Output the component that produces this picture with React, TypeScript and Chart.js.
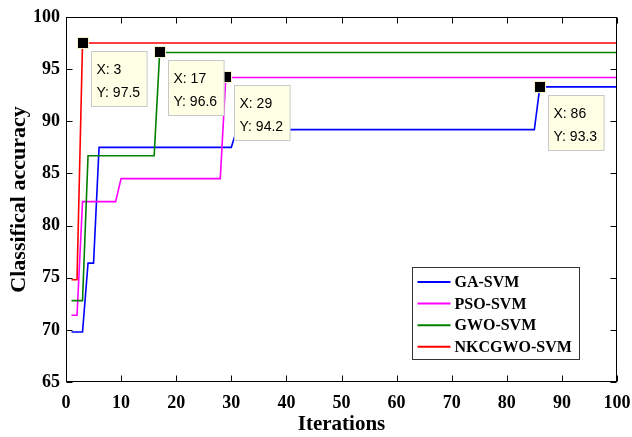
import React, { useEffect, useRef } from "react";
import { Chart, registerables } from "chart.js";
Chart.register(...registerables);

const X_MIN = 0;
const X_MAX = 100;
const X_STEP = 10;
const Y_MIN = 65;
const Y_MAX = 100;
const Y_STEP = 5;

const SERIES_NAMES = ["GA-SVM", "PSO-SVM", "GWO-SVM", "NKCGWO-SVM"];
const SERIES_COLORS = ["#0000ff", "#ff00ff", "#008000", "#ff0000"];

const GA_X = [1, 3, 4, 5, 6, 30, 31, 85, 86, 100];
const GA_Y = [69.8, 69.8, 76.4, 76.4, 87.5, 87.5, 89.2, 89.2, 93.3, 93.3];
const PSO_X = [1, 2, 3, 9, 10, 28, 29, 100];
const PSO_Y = [71.4, 71.4, 82.3, 82.3, 84.5, 84.5, 94.2, 94.2];
const GWO_X = [1, 3, 4, 16, 17, 100];
const GWO_Y = [72.8, 72.8, 86.7, 86.7, 96.6, 96.6];
const NK_X = [1, 2, 3, 100];
const NK_Y = [74.8, 74.8, 97.5, 97.5];

const MARK_X = [3, 17, 29, 86];
const MARK_Y = [97.5, 96.6, 94.2, 93.3];

const X_TITLE = "Iterations";
const Y_TITLE = "Classifical accuracy";

const SERIF = "'Liberation Serif', 'Times New Roman', serif";
const SANS = "'Liberation Sans', Arial, sans-serif";

function pts(xs: number[], ys: number[]) {
  return xs.map((x, i) => ({ x, y: ys[i] }));
}

const decorPlugin = {
  id: "decor",
  afterDatasetsDraw(chart: any) {
    const ctx = chart.ctx as CanvasRenderingContext2D;
    const { left, right, top, bottom } = chart.chartArea;
    const xs = chart.scales.x;
    const ys = chart.scales.y;
    ctx.save();
    // frame
    ctx.strokeStyle = "#000";
    ctx.lineWidth = 1;
    const L = Math.round(left) + 0.5;
    const R = Math.round(right) - 0.5;
    const T = Math.round(top) + 0.5;
    const B = Math.round(bottom) - 0.5;
    ctx.strokeRect(L, T, R - L, B - T);
    // inward ticks
    const tl = 6;
    ctx.beginPath();
    for (let v = X_MIN; v <= X_MAX; v += X_STEP) {
      const px = Math.round(xs.getPixelForValue(v)) + 0.5;
      ctx.moveTo(px, B);
      ctx.lineTo(px, B - tl);
      ctx.moveTo(px, T);
      ctx.lineTo(px, T + tl);
    }
    for (let v = Y_MIN; v <= Y_MAX; v += Y_STEP) {
      const py = Math.round(ys.getPixelForValue(v)) + 0.5;
      ctx.moveTo(L, py);
      ctx.lineTo(L + tl, py);
      ctx.moveTo(R, py);
      ctx.lineTo(R - tl, py);
    }
    ctx.stroke();

    // markers
    MARK_X.forEach((mx, i) => {
      const px = xs.getPixelForValue(mx);
      const py = ys.getPixelForValue(MARK_Y[i]);
      ctx.fillStyle = "#f5f0c8";
      ctx.fillRect(Math.round(px - 6), Math.round(py - 6), 12, 12);
      ctx.fillStyle = "#000";
      ctx.fillRect(Math.round(px - 5), Math.round(py - 5), 10, 10);
    });
    // data tips
    ctx.font = `14px ${SANS}`;
    MARK_X.forEach((mx, i) => {
      const px = xs.getPixelForValue(mx);
      const py = ys.getPixelForValue(MARK_Y[i]);
      const l1 = `X: ${mx}`;
      const l2 = `Y: ${MARK_Y[i]}`;
      const w = Math.max(ctx.measureText(l1).width, ctx.measureText(l2).width) + 12;
      const h = 55;
      const bx = Math.round(px + 8) + 0.5;
      const by = Math.round(py + 8) + 0.5;
      ctx.fillStyle = "#ffffe6";
      ctx.fillRect(bx, by, w, h);
      ctx.strokeStyle = "#c8c8c8";
      ctx.strokeRect(bx, by, w, h);
      ctx.fillStyle = "#000";
      ctx.textAlign = "left";
      ctx.textBaseline = "alphabetic";
      ctx.fillText(l1, bx + 5, by + 22);
      ctx.fillText(l2, bx + 5, by + 45);
    });

    // legend
    const lx = 412.5, ly = 267.5, lw = 167, lh = 92;
    ctx.fillStyle = "#fff";
    ctx.fillRect(lx, ly, lw, lh);
    ctx.strokeStyle = "#333";
    ctx.strokeRect(lx, ly, lw, lh);
    ctx.font = `bold 16px ${SERIF}`;
    ctx.textBaseline = "middle";
    SERIES_NAMES.forEach((name, i) => {
      const cy = ly + 14.5 + i * 21.6;
      ctx.strokeStyle = SERIES_COLORS[i];
      ctx.lineWidth = 2;
      ctx.beginPath();
      ctx.moveTo(lx + 5, cy);
      ctx.lineTo(lx + 38, cy);
      ctx.stroke();
      ctx.fillStyle = "#000";
      ctx.fillText(name, lx + 42, cy + 1);
    });
    ctx.restore();
  },
  afterDraw(chart: any) {
    const ctx = chart.ctx as CanvasRenderingContext2D;
    const { left, right, top, bottom } = chart.chartArea;
    ctx.save();
    ctx.fillStyle = "#000";
    ctx.font = `bold 21px ${SERIF}`;
    ctx.textAlign = "center";
    ctx.textBaseline = "alphabetic";
    ctx.fillText(X_TITLE, (left + right) / 2, 430);
    ctx.translate(25, (top + bottom) / 2);
    ctx.rotate(-Math.PI / 2);
    ctx.font = `bold 22px ${SERIF}`;
    ctx.fillText(Y_TITLE, 0, 0);
    ctx.restore();
  },
};

export default function App() {
  const ref = useRef<HTMLCanvasElement>(null);
  useEffect(() => {
    document.body.style.margin = "0";
    const seriesX = [GA_X, PSO_X, GWO_X, NK_X];
    const seriesY = [GA_Y, PSO_Y, GWO_Y, NK_Y];
    const chart = new Chart(ref.current!, {
      type: "line",
      data: {
        datasets: SERIES_NAMES.map((name, i) => ({
          label: name,
          data: pts(seriesX[i], seriesY[i]),
          borderColor: SERIES_COLORS[i],
          backgroundColor: SERIES_COLORS[i],
          borderWidth: 1.6,
          pointRadius: 0,
          tension: 0,
          fill: false,
          order: SERIES_NAMES.length - i,
        })),
      },
      options: {
        animation: false,
        responsive: false,
        maintainAspectRatio: false,
        layout: { padding: { left: 0, top: 17, right: 15, bottom: 0 } },
        plugins: { legend: { display: false }, tooltip: { enabled: false } },
        scales: {
          x: {
            type: "linear",
            min: X_MIN,
            max: X_MAX,
            grid: { display: false, drawTicks: false },
            border: { display: false },
            ticks: {
              stepSize: X_STEP,
              padding: 11,
              color: "#000",
              maxRotation: 0,
              font: { family: SERIF, size: 18, weight: "bold" },
            },
            afterFit: (s: any) => {
              s.height = 55;
              s.paddingLeft = 0;
              s.paddingRight = 0;
            },
          },
          y: {
            type: "linear",
            min: Y_MIN,
            max: Y_MAX,
            grid: { display: false, drawTicks: false },
            border: { display: false },
            ticks: {
              stepSize: Y_STEP,
              padding: 6,
              color: "#000",
              font: { family: SERIF, size: 18, weight: "bold" },
            },
            afterFit: (s: any) => {
              s.width = 66;
              s.paddingTop = 0;
              s.paddingBottom = 0;
            },
          },
        },
      },
      plugins: [decorPlugin],
    } as any);
    return () => chart.destroy();
  }, []);
  return (
    <div style={{ width: 632, height: 437, position: "relative" }}>
      <canvas ref={ref} width={632} height={437} style={{ display: "block" }} />
    </div>
  );
}
